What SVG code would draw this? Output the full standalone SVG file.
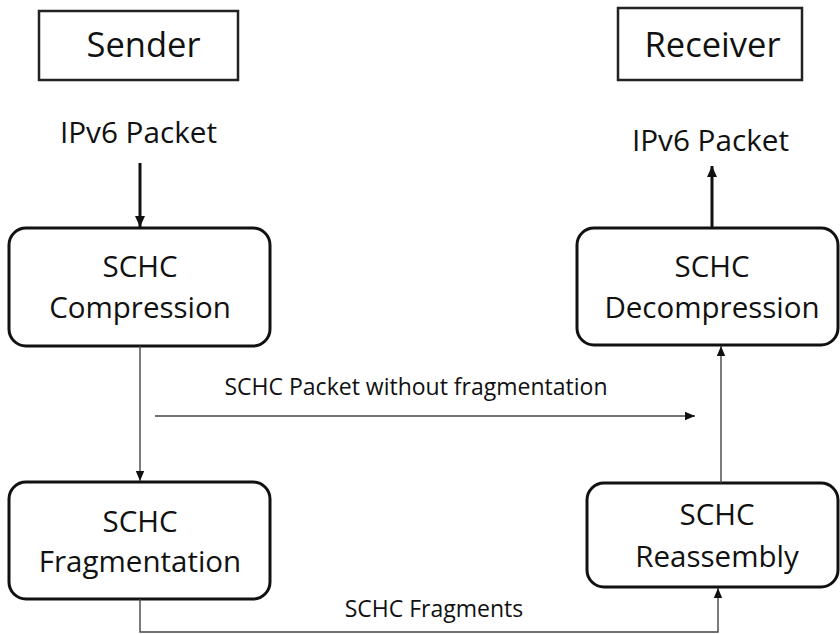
<svg xmlns="http://www.w3.org/2000/svg" width="840" height="634" viewBox="0 0 840 634">
<defs>
<style>
text{font-family:"Open Sans","Liberation Sans",sans-serif;fill:#111;text-anchor:middle}
.hdr{font-size:34.5px}
.pk{font-size:29.7px}
.bx{font-size:29.5px}
.lbl{font-size:23px}
.frame{fill:#fff;stroke:#222;stroke-width:2.5}
.node{fill:#fff;stroke:#111;stroke-width:3}
.thick{stroke:#111;stroke-width:3;fill:none}
.thin{stroke:#444;stroke-width:1.4;fill:none}
</style>
<marker id="ah" markerUnits="userSpaceOnUse" markerWidth="12" markerHeight="12" viewBox="0 0 12 12" refX="11" refY="6" orient="auto">
<path d="M0,1 L11,6 L0,11 Z" fill="#111"/>
</marker>
<marker id="at" markerUnits="userSpaceOnUse" markerWidth="11" markerHeight="10" viewBox="0 0 11 10" refX="10" refY="5" orient="auto">
<path d="M0,0.8 L10,5 L0,9.2 Z" fill="#111"/>
</marker>
</defs>
<rect width="840" height="634" fill="#fff"/>
<g id="sender">
<rect class="frame" x="39" y="11" width="199" height="69"/>
<text class="hdr" x="143.5" y="57">Sender</text>
</g>
<g id="receiver">
<rect class="frame" x="618" y="8" width="184" height="72"/>
<text class="hdr" x="712.5" y="57">Receiver</text>
</g>
<g id="ipv6-in">
<text class="pk" x="138.5" y="143">IPv6 Packet</text>
</g>
<g id="ipv6-out">
<text class="pk" x="710.5" y="151">IPv6 Packet</text>
</g>
<g id="compression">
<rect class="node" x="9" y="228" width="261" height="118" rx="17"/>
<text class="bx" x="140" y="277">SCHC</text>
<text class="bx" x="140" y="318">Compression</text>
</g>
<g id="fragmentation">
<rect class="node" x="9" y="482" width="261" height="117" rx="17"/>
<text class="bx" x="140" y="532">SCHC</text>
<text class="bx" x="140" y="572">Fragmentation</text>
</g>
<g id="decompression">
<rect class="node" x="577" y="228" width="261" height="117" rx="17"/>
<text class="bx" x="712" y="277">SCHC</text>
<text class="bx" x="712" y="318">Decompression</text>
</g>
<g id="reassembly">
<rect class="node" x="587" y="483" width="251" height="104" rx="17"/>
<text class="bx" x="717" y="525">SCHC</text>
<text class="bx" x="717" y="567">Reassembly</text>
</g>
<g id="connectors">
<line class="thick" x1="140" y1="163" x2="140" y2="227" marker-end="url(#ah)"/>
<line class="thick" x1="712" y1="228" x2="712" y2="166" marker-end="url(#ah)"/>
<line class="thin" x1="140" y1="346" x2="140" y2="481" marker-end="url(#at)"/>
<line class="thin" x1="155" y1="416" x2="695" y2="416" marker-end="url(#at)"/>
<text class="lbl" x="416" y="395">SCHC Packet without fragmentation</text>
<line class="thin" x1="721" y1="483" x2="721" y2="346" marker-end="url(#at)"/>
<path class="thin" d="M140,599 V632 H718 V588" marker-end="url(#at)"/>
<text class="lbl" x="434" y="617">SCHC Fragments</text>
</g>
</svg>
